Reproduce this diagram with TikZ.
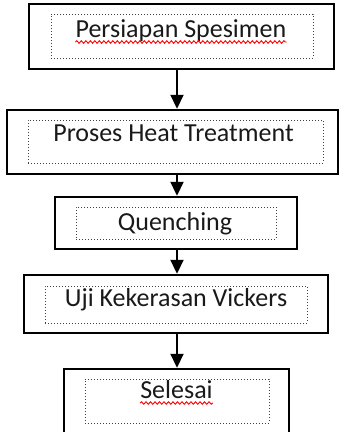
\documentclass[tikz,border=0pt]{standalone}
\usepackage{fontspec}
\setmainfont{Carlito}
\usetikzlibrary{arrows.meta,positioning,decorations.pathmorphing}

\newcommand\stagefont{\fontsize{26}{30}\selectfont}
\newlength\wavestart
\newlength\waveend

\tikzset{
  stage/.style={draw, line width=2.5pt, inner sep=0pt},
  textframe/.style={draw=black!75, dotted, line width=1pt, inner sep=0pt},
  stagetext/.style={font=\stagefont, text=black!90, inner sep=0pt, anchor=base},
  flow/.style={line width=2.2pt, -{Triangle[width=13pt,length=14pt]}},
  spellwave/.style={draw=red, line width=0.9pt, decorate,
    decoration={snake, segment length=4.5pt, amplitude=1.3pt}}
}

\begin{document}
\begin{tikzpicture}[x=1pt,y=-1pt]
  \useasboundingbox (0,0) rectangle (340,432);
  \clip (0,0) rectangle (340,432);
  \coordinate (spine) at (177,0);

  % outer boxes
  \node[stage, minimum width=305pt, minimum height=65pt] (persiapan) at (181.5,36.5) {};
  \node[stage, minimum width=331pt, minimum height=64pt] (heat) at (172.5,142) {};
  \node[stage, minimum width=242pt, minimum height=52pt] (quench) at (176,223) {};
  \node[stage, minimum width=304pt, minimum height=58pt] (vickers) at (176,304) {};
  \node[stage, minimum width=225pt, minimum height=81pt] (selesai) at (176.5,409.5) {};

  % dotted text frames
  \node[textframe, minimum width=262pt, minimum height=44pt] (persiapan-frame) at (182,36) {};
  \node[textframe, minimum width=295pt, minimum height=43pt] (heat-frame) at (175.5,141.5) {};
  \node[textframe, minimum width=200pt, minimum height=32pt] (quench-frame) at (176,223) {};
  \node[textframe, minimum width=262pt, minimum height=37pt] (vickers-frame) at (176,304.5) {};
  \node[textframe, minimum width=184pt, minimum height=44pt] (selesai-frame) at (177,401) {};

  % texts
  \node[stagetext] (persiapan-text) at (181,37) {Persiapan Spesimen};
  \node[stagetext] (heat-text) at (173.5,141.7) {Proses Heat Treatment};
  \node[stagetext] (quench-text) at (175,230) {Quenching};
  \node[stagetext] (vickers-text) at (176,306.5) {Uji Kekerasan Vickers};
  \node[stagetext] (selesai-text) at (176.5,398) {Selesai};

  % spelling marks
  \settowidth\wavestart{\stagefont Uji }
  \settowidth\waveend{\stagefont Uji Kekerasan}
  \draw[spellwave] ([yshift=-5pt]persiapan-text.base west) -- ([yshift=-5pt]persiapan-text.base east);
  \draw[spellwave] ([xshift=\wavestart, yshift=-5pt]vickers-text.base west) -- ([xshift=\waveend, yshift=-5pt]vickers-text.base west);
  \draw[spellwave] ([yshift=-5pt]selesai-text.base west) -- ([yshift=-5pt]selesai-text.base east);

  % arrows
  \draw[flow] (persiapan.south -| spine) -- (heat.north -| spine);
  \draw[flow] (heat.south -| spine) -- (quench.north -| spine);
  \draw[flow] (quench.south -| spine) -- (vickers.north -| spine);
  \draw[flow] (vickers.south -| spine) -- (selesai.north -| spine);
\end{tikzpicture}
\end{document}
